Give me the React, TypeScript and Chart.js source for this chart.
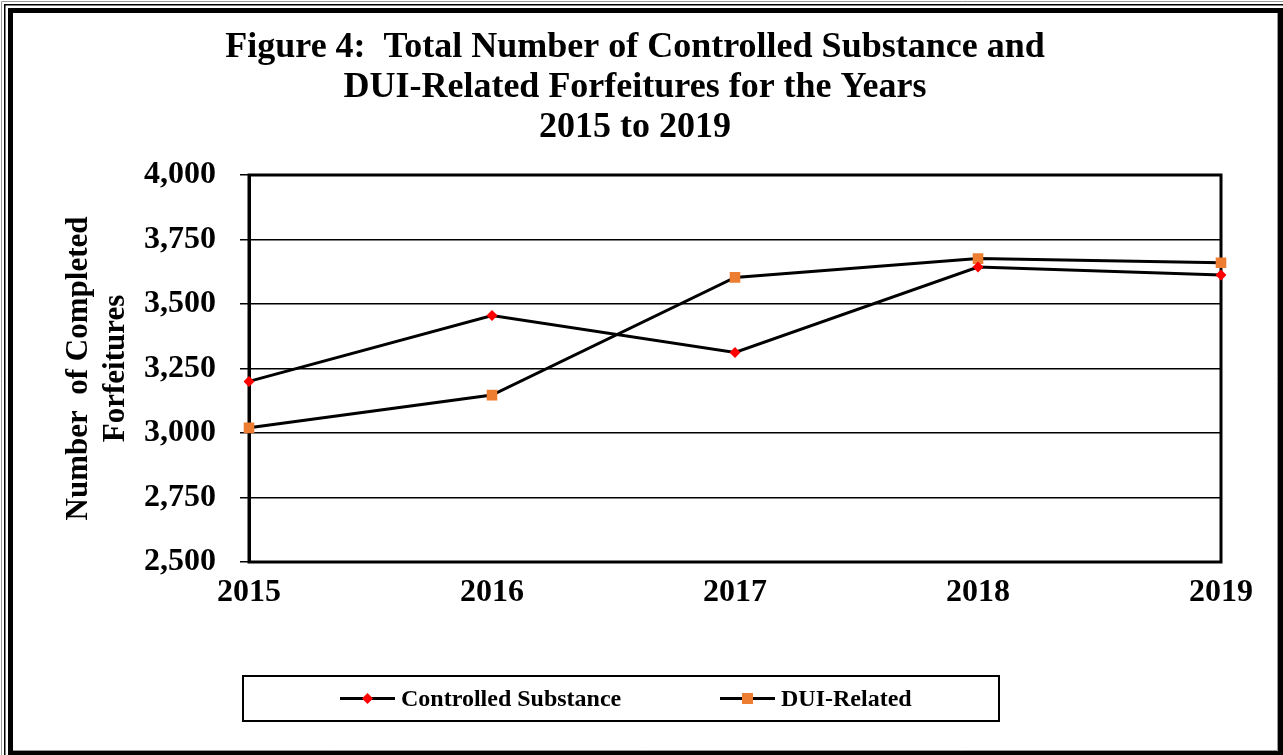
import React, { useEffect, useRef } from "react";
import { Chart, registerables } from "chart.js";

Chart.register(...registerables);

const years = ["2015", "2016", "2017", "2018", "2019"];
const controlledSubstance = [3200, 3455, 3312, 3643, 3612];
const duiRelated = [3020, 3147, 3603, 3676, 3660];
const seriesLabels = ["Controlled Substance", "DUI-Related"];
const titleLines = [
  "Figure 4:  Total Number of Controlled Substance and",
  "DUI-Related Forfeitures for the Years",
  "2015 to 2019",
];
const yAxisTitle = ["Number  of Completed", "Forfeitures"];
const yMin = 2500;
const yMax = 4000;
const yStep = 250;

const FONT = "'Liberation Serif', 'Times New Roman', serif";

const framePlugin = {
  id: "frame",
  beforeDraw(chart: any) {
    const { ctx, width, height } = chart;
    ctx.save();
    ctx.fillStyle = "#fff";
    ctx.fillRect(0, 0, width, height);
    ctx.strokeStyle = "#9a9a9a";
    ctx.lineWidth = 1;
    ctx.beginPath();
    ctx.moveTo(1.5, height);
    ctx.lineTo(1.5, 1.5);
    ctx.lineTo(width, 1.5);
    ctx.stroke();
    ctx.strokeStyle = "#000";
    ctx.lineWidth = 1.5;
    ctx.beginPath();
    ctx.moveTo(4.75, height);
    ctx.lineTo(4.75, 4.75);
    ctx.lineTo(width, 4.75);
    ctx.stroke();
    ctx.fillStyle = "#000";
    ctx.fillRect(8, 8, 5, height - 8);
    ctx.fillRect(8, 8, width - 8, 5);
    ctx.fillRect(width - 5, 8, 5, height - 8);
    ctx.fillRect(8, height - 4, width - 8, 4);
    ctx.strokeStyle = "#9a9a9a";
    ctx.lineWidth = 1;
    ctx.beginPath();
    ctx.moveTo(13, height - 4.5);
    ctx.lineTo(width - 5.5, height - 4.5);
    ctx.lineTo(width - 5.5, 13);
    ctx.stroke();
    ctx.restore();
  },
};

const titlePlugin = {
  id: "customTitle",
  afterDraw(chart: any) {
    const { ctx } = chart;
    ctx.save();
    ctx.fillStyle = "#000";
    ctx.font = `bold 36px ${FONT}`;
    ctx.textAlign = "center";
    ctx.textBaseline = "middle";
    titleLines.forEach((line, i) => {
      ctx.fillText(line, 635, 48 + i * 40);
    });
    ctx.restore();
  },
};

const plotBorderPlugin = {
  id: "plotBorder",
  beforeDatasetsDraw(chart: any) {
    const { ctx, chartArea } = chart;
    ctx.save();
    ctx.strokeStyle = "#000";
    ctx.lineWidth = 3;
    ctx.strokeRect(
      chartArea.left,
      chartArea.top,
      chartArea.right - chartArea.left,
      chartArea.bottom - chartArea.top
    );
    ctx.restore();
  },
};

const legendPlugin = {
  id: "boxLegend",
  afterDraw(chart: any) {
    const { ctx } = chart;
    const boxX = 243;
    const boxY = 676;
    const boxW = 756;
    const boxH = 45;
    const cy = boxY + boxH / 2;
    const starts = [340, 720];
    ctx.save();
    ctx.strokeStyle = "#000";
    ctx.lineWidth = 2;
    ctx.strokeRect(boxX, boxY, boxW, boxH);
    chart.data.datasets.forEach((ds: any, i: number) => {
      const x0 = starts[i];
      ctx.strokeStyle = ds.borderColor;
      ctx.lineWidth = 3;
      ctx.beginPath();
      ctx.moveTo(x0, cy);
      ctx.lineTo(x0 + 55, cy);
      ctx.stroke();
      const mx = x0 + 27.5;
      ctx.fillStyle = ds.pointBackgroundColor;
      if (ds.pointStyle === "rectRot") {
        const r = 5.5;
        ctx.beginPath();
        ctx.moveTo(mx, cy - r);
        ctx.lineTo(mx + r, cy);
        ctx.lineTo(mx, cy + r);
        ctx.lineTo(mx - r, cy);
        ctx.closePath();
        ctx.fill();
      } else {
        ctx.fillRect(mx - 5.5, cy - 5.5, 11, 11);
      }
      ctx.fillStyle = "#000";
      ctx.font = `bold 24px ${FONT}`;
      ctx.textAlign = "left";
      ctx.textBaseline = "middle";
      ctx.fillText(ds.label, x0 + 61, cy + 1);
    });
    ctx.restore();
  },
};

export default function App() {
  const canvasRef = useRef<HTMLCanvasElement | null>(null);

  useEffect(() => {
    if (!canvasRef.current) return;
    const chart = new Chart(canvasRef.current, {
      type: "line",
      data: {
        labels: years,
        datasets: [
          {
            label: seriesLabels[0],
            data: controlledSubstance,
            borderColor: "#000",
            borderWidth: 3,
            pointStyle: "rectRot",
            pointRadius: 5.5,
            pointBackgroundColor: "#FF0000",
            pointBorderColor: "#FF0000",
            pointBorderWidth: 0,
            tension: 0,
          } as any,
          {
            label: seriesLabels[1],
            data: duiRelated,
            borderColor: "#000",
            borderWidth: 3,
            pointStyle: "rect",
            pointRadius: 7.5,
            pointBackgroundColor: "#ED7D31",
            pointBorderColor: "#ED7D31",
            pointBorderWidth: 0,
            tension: 0,
          } as any,
        ],
      },
      options: {
        responsive: false,
        animation: false,
        devicePixelRatio: 1,
        layout: { padding: { top: 175, right: 62, left: 0, bottom: 0 } },
        plugins: {
          legend: { display: false },
          title: { display: false },
          tooltip: { enabled: false },
        },
        scales: {
          x: {
            type: "category",
            offset: false,
            grid: { display: false, drawTicks: false },
            border: { display: true, color: "#000", width: 2 },
            ticks: {
              color: "#000",
              font: { family: FONT, weight: "bold", size: 32 },
              padding: 12,
              maxRotation: 0,
              autoSkip: false,
            },
            afterFit: (s: any) => {
              s.height = 193;
            },
          },
          y: {
            min: yMin,
            max: yMax,
            ticks: {
              stepSize: yStep,
              color: "#000",
              font: { family: FONT, weight: "bold", size: 32 },
              padding: 24,
              callback: (v: any) => Number(v).toLocaleString("en-US"),
            },
            grid: { color: "#000", lineWidth: 1.5, tickLength: 9, drawTicks: true },
            border: { display: true, color: "#000", width: 3 },
            title: {
              display: true,
              text: yAxisTitle,
              color: "#000",
              font: { family: FONT, weight: "bold", size: 31, lineHeight: 1.18 },
              padding: { top: 61, bottom: 0 },
            },
            afterFit: (s: any) => {
              s.width = 249;
            },
          },
        },
      } as any,
      plugins: [framePlugin, titlePlugin, plotBorderPlugin, legendPlugin],
    });
    return () => chart.destroy();
  }, []);

  return (
    <div style={{ position: "absolute", left: 0, top: 0, width: 1283, height: 755 }}>
      <canvas ref={canvasRef} width={1283} height={755} style={{ display: "block", width: 1283, height: 755 }} />
    </div>
  );
}
